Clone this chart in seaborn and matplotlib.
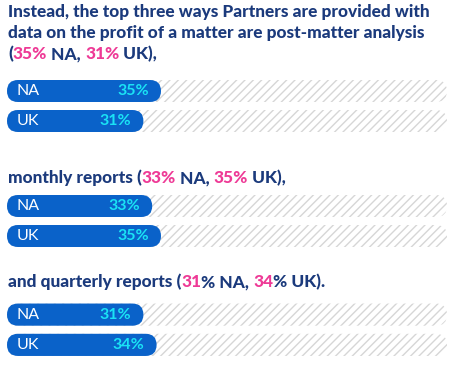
import matplotlib
matplotlib.use("Agg")
import matplotlib.pyplot as plt
from matplotlib.patches import FancyBboxPatch
import pandas as pd
import seaborn as sns

# data
regions = ["NA", "UK"]
na_vals = [35, 33, 31]
uk_vals = [31, 35, 34]

# headings: list of lines, each line a list of (text, colour key)
headings = [
    [[("Instead, the top three ways Partners are provided with", "n")],
     [("data on the profit of a matter are post-matter analysis", "n")],
     [("(", "n"), ("35%", "p"), (" NA, ", "n"), ("31%", "p"), (" UK),", "n")]],
    [[("monthly reports (", "n"), ("33%", "p"), (" NA, ", "n"), ("35%", "p"), (" UK),", "n")]],
    [[("and quarterly reports (", "n"), ("31", "p"), ("% NA, ", "n"), ("34", "p"), ("% UK).", "n")]],
]

navy = "#1b3a7c"
pink = "#ee3a96"
blue = "#0a62c9"
cyan = "#1ae3f5"
hatch_grey = "#d6d6d6"
cols = {"n": navy, "p": pink}

sns.set_style("white")
plt.rcParams["font.family"] = ["Lato", "DejaVu Sans"]
plt.rcParams["hatch.color"] = hatch_grey
plt.rcParams["hatch.linewidth"] = 1.0

W, H = 454, 366
fig = plt.figure(figsize=(W / 100, H / 100), dpi=100)

# heading first-line vertical centres (px) and bar centres
head_y = [12, 178, 282]
bar_c = [(91, 121), (206, 236), (314.5, 345)]
line_gap = 21
head_size = 12.4
head_weight = "black"

px_x = 440 / 100  # pixels per percent
px_y = 30         # pixels per category step
bar_h = 22 / 30

for g in range(3):
    c1, c2 = bar_c[g]
    top = c1 - 15
    bottom = c2 + 15
    ax = fig.add_axes([7 / W, 1 - bottom / H, 440 / W, (bottom - top) / H])
    df = pd.DataFrame({"region": regions, "value": [na_vals[g], uk_vals[g]]})
    track = pd.DataFrame({"region": regions, "value": [100, 100]})
    sns.barplot(data=track, x="value", y="region", orient="h", width=bar_h,
                color="white", ax=ax)
    n_track = len(ax.patches)
    sns.barplot(data=df, x="value", y="region", orient="h", width=bar_h,
                color=blue, ax=ax)
    rects = list(ax.patches)
    for i, r in enumerate(rects):
        x0, y0, w, h = r.get_x(), r.get_y(), r.get_width(), r.get_height()
        r.remove()
        is_track = i < n_track
        fb = FancyBboxPatch((x0, y0), w, h,
                            boxstyle=f"round,pad=0,rounding_size={11 / px_x}",
                            mutation_aspect=px_x / px_y,
                            facecolor="white" if is_track else blue,
                            edgecolor=hatch_grey if is_track else "none",
                            hatch="////" if is_track else None,
                            linewidth=0, zorder=1 if is_track else 2)
        ax.add_patch(fb)
    for i, v in enumerate([na_vals[g], uk_vals[g]]):
        ax.annotate(regions[i], xy=(0, i), xytext=(10, 0), textcoords="offset pixels",
                    va="center", ha="left", color="white", fontsize=11.5, zorder=3)
        ax.annotate(f"{v}%", xy=(v, i), xytext=(-12, 0), textcoords="offset pixels",
                    va="center", ha="right", color=cyan, fontsize=11.5,
                    fontweight="bold", zorder=3)
    ax.set_xlim(0, 100)
    ax.set_ylim(1.5, -0.5)
    ax.set_axis_off()

for g in range(3):
    for li, pieces in enumerate(headings[g]):
        y = head_y[g] + li * line_gap
        prev = fig.text(8 / W, 1 - y / H, pieces[0][0], color=cols[pieces[0][1]],
                        fontsize=head_size, fontweight=head_weight,
                        va="center", ha="left")
        for txt, c in pieces[1:]:
            prev = fig.axes[0].annotate(
                txt, xy=(1, 0), xycoords=prev, va="bottom", ha="left",
                color=cols[c], fontsize=head_size, fontweight=head_weight,
                annotation_clip=False)

fig.savefig("out.png", dpi=100, facecolor="white")
